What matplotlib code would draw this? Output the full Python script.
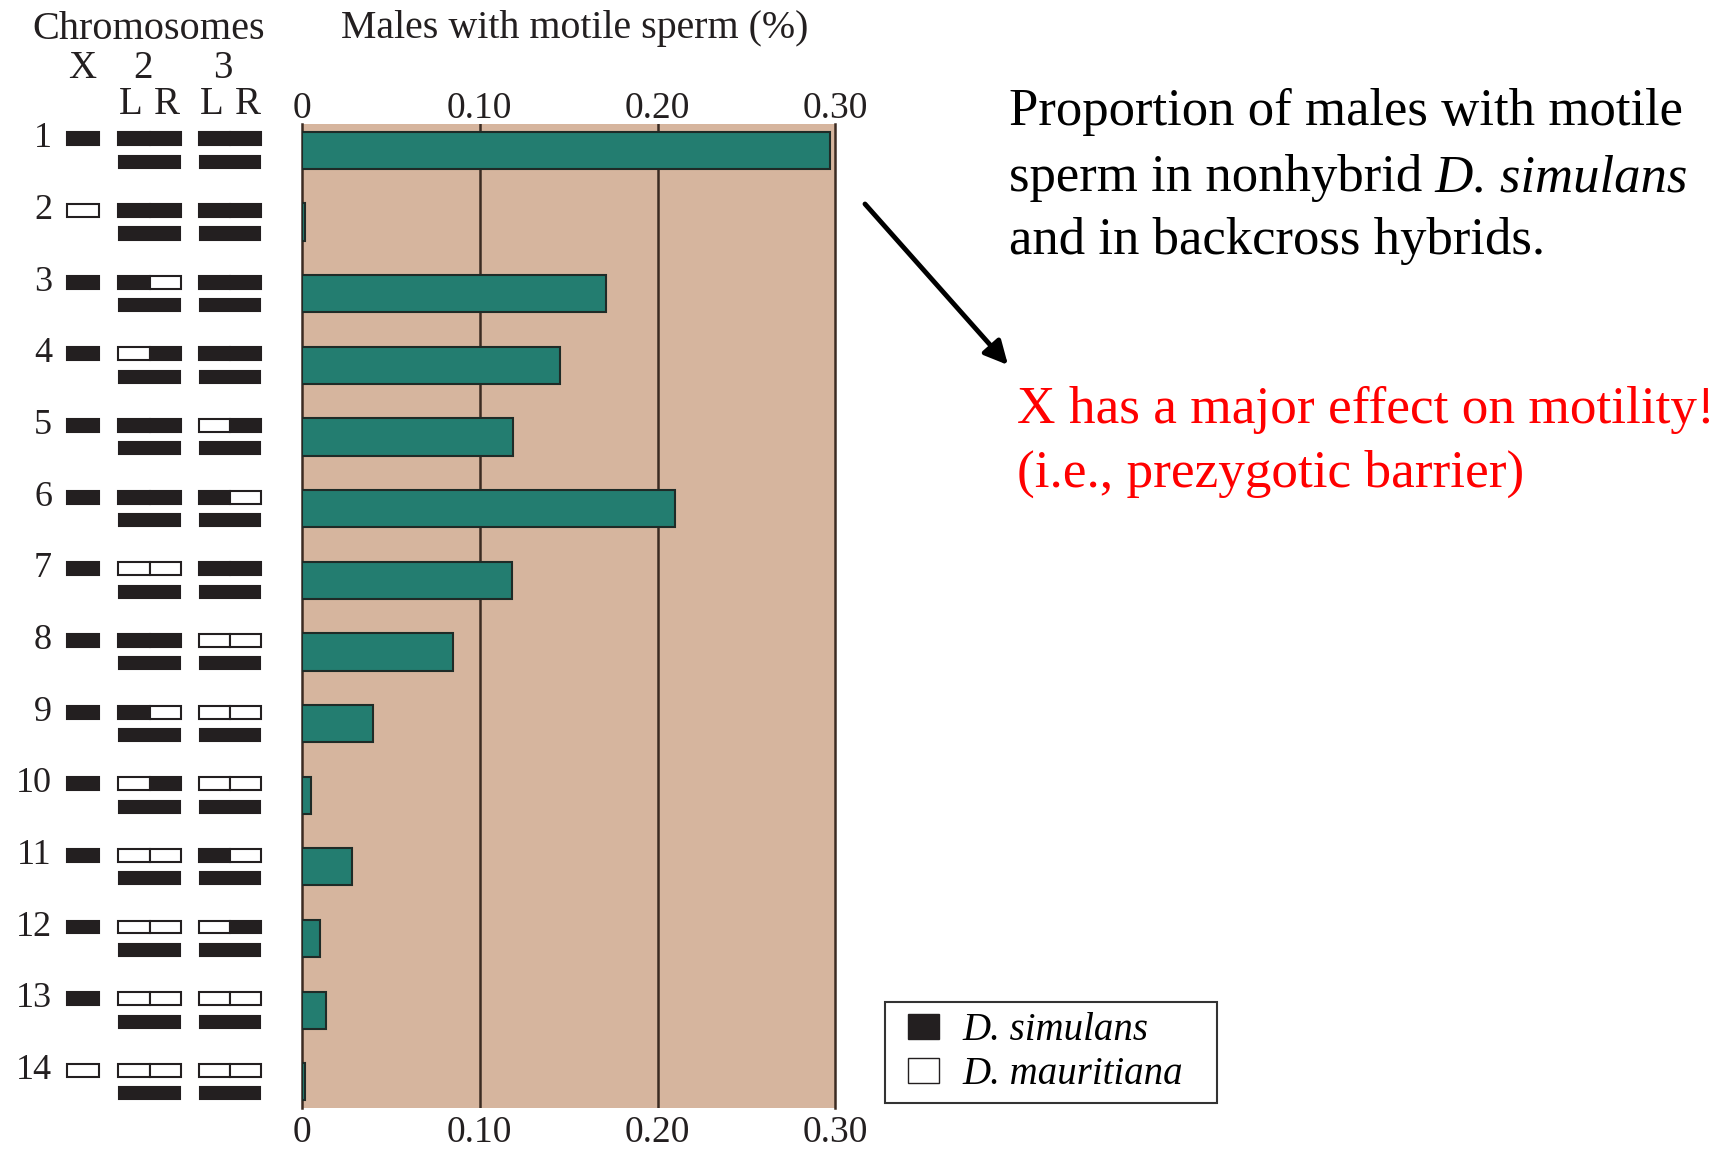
import numpy as np
import matplotlib
matplotlib.use('Agg')
import matplotlib.pyplot as plt
from matplotlib.patches import Rectangle, Patch

# data
rows = list(range(1, 15))
motile = [0.297, 0.002, 0.171, 0.145, 0.119, 0.210, 0.118,
          0.085, 0.040, 0.005, 0.028, 0.0105, 0.0135, 0.0017]

# upper homolog of each row: S = D. simulans, M = D. mauritiana
# (the lower homolog of 2 and 3 is always D. simulans)
x_chrom = ['S', 'M', 'S', 'S', 'S', 'S', 'S', 'S', 'S', 'S', 'S', 'S', 'S', 'M']
chr2_L = ['S', 'S', 'S', 'M', 'S', 'S', 'M', 'S', 'S', 'M', 'M', 'M', 'M', 'M']
chr2_R = ['S', 'S', 'M', 'S', 'S', 'S', 'M', 'S', 'M', 'S', 'M', 'M', 'M', 'M']
chr3_L = ['S', 'S', 'S', 'S', 'M', 'S', 'S', 'M', 'M', 'M', 'S', 'M', 'M', 'M']
chr3_R = ['S', 'S', 'S', 'S', 'S', 'M', 'S', 'M', 'M', 'M', 'M', 'S', 'M', 'M']

x_ticks = [0, 0.10, 0.20, 0.30]
x_tick_labels = ['0', '0.10', '0.20', '0.30']
species = ['D. simulans', 'D. mauritiana']

plt.rcParams['font.family'] = ['Liberation Serif', 'DejaVu Serif']

W, H = 1733, 1149
dark = '#231f20'
tan = '#d6b59e'
teal = '#237d70'
fill = {'S': dark, 'M': 'white'}


def fx(px):
    return px / W


def fy(py):
    return 1 - py / H


fig = plt.figure(figsize=(W / 100, H / 100), dpi=100)
fig.patch.set_facecolor('white')

ax_l, ax_r, ax_t, ax_b = 301.7, 835.4, 123.8, 1108.3
ax = fig.add_axes([fx(ax_l), fy(ax_b), fx(ax_r) - fx(ax_l), fy(ax_t) - fy(ax_b)])
ax.set_facecolor(tan)
ypos = np.arange(len(rows))
ax.barh(ypos, motile, height=0.52, color=teal, edgecolor='#1f2b27', linewidth=1.5, zorder=3)
for v in x_ticks[1:-1]:
    ax.axvline(v, color='#3b2b22', lw=1.8, zorder=2)
ax.set_xlim(0, 0.30)
ylim = (len(rows) - 1 + 0.37, -0.37)
ax.set_ylim(*ylim)
ax.set_yticks([])
ax.spines['top'].set_visible(False)
ax.spines['bottom'].set_visible(False)
for s in ['left', 'right']:
    ax.spines[s].set_color('#3b2b22')
    ax.spines[s].set_linewidth(1.8)
ax.set_xticks(x_ticks, x_tick_labels)
ax.tick_params(axis='x', length=0, pad=5.5, labelsize=27, labelcolor=dark)
sec = ax.secondary_xaxis('top')
sec.set_xticks(x_ticks, x_tick_labels)
sec.tick_params(axis='x', length=0, pad=-1.4, labelsize=27, labelcolor=dark)
sec.spines['top'].set_visible(False)

# chromosome diagram, x in pixel units
axd = fig.add_axes([0, fy(ax_b), fx(ax_l), fy(ax_t) - fy(ax_b)])
axd.set_xlim(0, ax_l)
axd.set_ylim(*ylim)
axd.axis('off')


def seg(x0, x1, yc, h, g):
    axd.add_patch(Rectangle((x0, yc - h / 2), x1 - x0, h, facecolor=fill[g],
                            edgecolor=dark, linewidth=1.5))


for i in range(len(rows)):
    top = i - 0.16
    bot = i + 0.16
    axd.text(52, top, str(rows[i]), ha='right', va='center', fontsize=26, color=dark)
    seg(66.7, 99, top, 0.18, x_chrom[i])
    seg(118.3, 149.5, top, 0.18, chr2_L[i])
    seg(149.5, 180.7, top, 0.18, chr2_R[i])
    seg(119.3, 180, bot, 0.17, 'S')
    seg(199.3, 230, top, 0.18, chr3_L[i])
    seg(230, 261, top, 0.18, chr3_R[i])
    seg(200, 260.3, bot, 0.17, 'S')

fig.text(fx(149), fy(29.5), 'Chromosomes', ha='center', va='center', fontsize=29, color=dark)
for lab, px in [('X', 82), ('2', 143), ('3', 223)]:
    fig.text(fx(px), fy(68), lab, ha='center', va='center', fontsize=28, color=dark)
for lab, px in [('L', 131), ('R', 167), ('L', 212), ('R', 248)]:
    fig.text(fx(px), fy(105), lab, ha='center', va='center', fontsize=28, color=dark)
fig.text(fx(575), fy(28.5), 'Males with motile sperm (%)', ha='center', va='center',
         fontsize=28.7, color=dark)

# legend, with its box drawn separately
fig.add_artist(Rectangle((fx(885), fy(1103)), fx(1217) - fx(885), fy(1002) - fy(1103),
                         transform=fig.transFigure, fill=False, edgecolor='#333333',
                         linewidth=1.5))
handles = [Patch(facecolor=dark, edgecolor=dark), Patch(facecolor='white', edgecolor=dark)]
leg = fig.legend(handles, species, loc='center left',
                 bbox_to_anchor=(fx(908), fy(1053)),
                 prop=dict(family='Liberation Serif', style='italic', size=28),
                 frameon=False, handlelength=0.8, handleheight=0.6, borderpad=0,
                 labelspacing=0.18, handletextpad=0.6, borderaxespad=0)

# annotations
fig.text(fx(1009), fy(125), 'Proportion of males with motile', fontsize=38, va='baseline')
t2 = fig.text(fx(1009), fy(191), 'sperm in nonhybrid', fontsize=38, va='baseline')
ax.annotate(' D. simulans', xy=(1, 0), xycoords=t2, va='bottom', ha='left',
            fontsize=38, fontstyle='italic')
fig.text(fx(1009), fy(254), 'and in backcross hybrids.', fontsize=38, va='baseline')
fig.text(fx(1017), fy(423), 'X has a major effect on motility!', fontsize=38.3,
         va='baseline', color='red')
fig.text(fx(1017), fy(487), '(i.e., prezygotic barrier)', fontsize=38.3,
         va='baseline', color='red')
ax.annotate('', xy=(fx(1008), fy(365)), xytext=(fx(865), fy(204)),
            xycoords='figure fraction', textcoords='figure fraction',
            arrowprops=dict(arrowstyle='-|>', color='black', lw=3.5,
                            mutation_scale=35, shrinkA=0, shrinkB=0))

fig.savefig('out.png', dpi=100)
